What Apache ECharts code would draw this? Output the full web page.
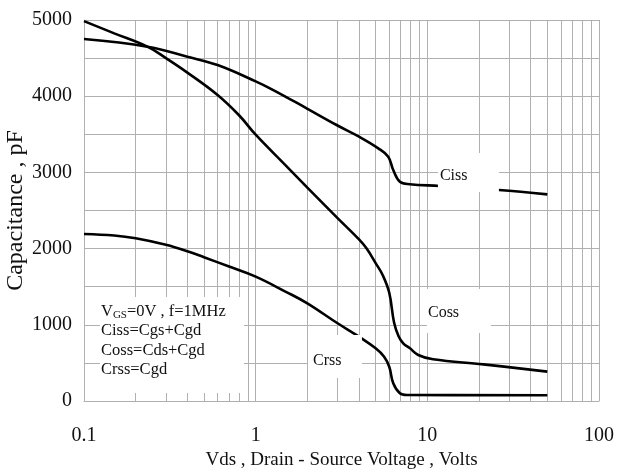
<!DOCTYPE html>
<html>
<head>
<meta charset="utf-8">
<title>Capacitance vs Drain-Source Voltage</title>
<script src="https://cdn.jsdelivr.net/npm/echarts@6/dist/echarts.min.js"></script>
<style>
  html, body { margin: 0; padding: 0; background: #fff; }
  #chart { width: 618px; height: 472px; }
</style>
</head>
<body>
<div id="chart"></div>
<script>
// Capacitance curves, [Vds (V), C (pF)]
const cissData = [[0.1,4751],[0.234,4650],[0.4,4518],[0.6,4409],[1.0,4195],[1.267,4081],[1.98,3841],[2.96,3622],[4.0,3469],[5.18,3316],[5.92,3206],[6.33,3031],[6.92,2878],[7.9,2845],[11.8,2822],[26.1,2769],[50,2712]];
const cossData = [[0.1,4985],[0.15,4825],[0.234,4650],[0.3,4500],[0.4,4310],[0.6,4016],[0.8,3750],[1.0,3495],[1.5,3089],[2.0,2800],[3.0,2400],[4.0,2120],[4.43,2000],[5.0,1810],[5.5,1650],[6.0,1420],[6.4,1030],[6.8,850],[7.24,757],[7.92,691],[8.85,604],[10.8,547],[21.2,481],[50,385]];
const crssData = [[0.1,2192],[0.15,2172],[0.2,2135],[0.3,2050],[0.4,1966],[0.5,1887],[0.7,1764],[1.0,1632],[1.5,1433],[2.0,1282],[3.0,1020],[4.0,844],[5.0,691],[5.6,581],[6.0,450],[6.33,232],[6.92,101],[7.6,78],[50,76]];

// Curve name tags: white boxes [x from, x to] x [C from, C to]
const tagNames = ['Ciss', 'Coss', 'Crss'];
const tagX1 = [11.53, 9.95, 2.017];
const tagX2 = [26.12, 23.47, 4.16];
const tagY1 = [2743, 892, 302];
const tagY2 = [3255, 1470, 866];

// Test conditions note and its box
const noteLines = ['{n|V}{s|GS}{n|=0V , f=1MHz}', '{n|Ciss=Cgs+Cgd}', '{n|Coss=Cds+Cgd}', '{n|Crss=Cgd}'];
const noteX = [0.1239, 0.855];
const noteY = [105, 1365];

// Log-decade gridlines between the labelled decades
const minorX = [0.2,0.3,0.4,0.5,0.6,0.7,0.8,0.9, 2,3,4,5,6,7,8,9, 20,30,40,50,60,70,80,90];

const FONT = 'Liberation Serif';
const GRID = '#b0b0b0';
const INK = '#111';

const chart = echarts.init(document.getElementById('chart'), null, { renderer: 'canvas' });

const curve = (name, data) => ({
  name, type: 'line', data, z: 3,
  showSymbol: false, symbol: 'none',
  smooth: 0.4,
  lineStyle: { color: '#000', width: 2.6 },
  emphasis: { disabled: true }, silent: true
});

// Text placement inside each tag box: [distance from left edge, vertical nudge]
const tagText = { Ciss: [2, 3], Coss: [1, 2], Crss: [5, 4.3] };

const tagAreas = tagNames.map((n, i) => [
  {
    name: n,
    coord: [tagX1[i], tagY2[i]],
    label: {
      show: true, position: 'insideLeft',
      distance: tagText[n][0], offset: [0, tagText[n][1]],
      formatter: n,
      fontFamily: FONT, fontSize: 16, color: INK
    }
  },
  { coord: [tagX2[i], tagY1[i]] }
]);

const noteArea = [
  {
    name: 'note',
    coord: [noteX[0], noteY[1]],
    label: {
      show: true, position: 'insideTopLeft',
      distance: 1, offset: [0, 3.5],
      formatter: noteLines.join('\n'),
      rich: {
        n: { fontFamily: FONT, fontSize: 16.5, lineHeight: 19.5, color: INK },
        s: { fontFamily: FONT, fontSize: 11, lineHeight: 19.5, color: INK, verticalAlign: 'bottom', padding: [6, 0, 0, 0] }
      }
    }
  },
  { coord: [noteX[1], noteY[0]] }
];

chart.setOption({
  animation: false,
  backgroundColor: '#fff',
  grid: { left: 84, right: 19, top: 20, bottom: 71, outerBoundsMode: 'none', containLabel: false },
  xAxis: {
    type: 'log', logBase: 10, min: 0.1, max: 100,
    name: 'Vds , Drain - Source Voltage , Volts',
    nameLocation: 'middle', nameGap: 50, nameMoveOverlap: false,
    nameTextStyle: { fontFamily: FONT, fontSize: 19, color: INK },
    axisLine: { show: true, lineStyle: { color: GRID, width: 1 } },
    axisTick: { show: false },
    axisLabel: { fontFamily: FONT, fontSize: 20, color: INK, margin: 25,
      formatter: v => String(+Number(v).toPrecision(3)) },
    splitLine: { show: true, lineStyle: { color: GRID, width: 1 } },
    minorTick: { show: false }, minorSplitLine: { show: false }
  },
  yAxis: {
    type: 'value', min: 0, max: 5000, interval: 500,
    name: 'Capacitance , pF',
    nameLocation: 'middle', nameGap: 56, nameMoveOverlap: false,
    nameTextStyle: { fontFamily: FONT, fontSize: 24, color: INK },
    axisLine: { show: true, lineStyle: { color: GRID, width: 1 } },
    axisTick: { show: false },
    axisLabel: { fontFamily: FONT, fontSize: 20, color: INK, margin: 12,
      formatter: v => (v % 1000 === 0 ? String(v) : '') },
    splitLine: { show: true, lineStyle: { color: GRID, width: 1 } }
  },
  series: [
    {
      name: 'decade grid', type: 'line', data: [], z: 1, silent: true,
      markLine: {
        z: 1, silent: true, symbol: 'none', animation: false,
        label: { show: false },
        lineStyle: { color: GRID, width: 1, type: 'solid' },
        emphasis: { disabled: true },
        data: minorX.map(v => ({ xAxis: v }))
      }
    },
    curve('Ciss', cissData),
    curve('Coss', cossData),
    curve('Crss', crssData),
    {
      name: 'annotations', type: 'line', data: [], z: 10, silent: true,
      markArea: {
        z: 10, silent: true, animation: false,
        itemStyle: { color: '#fff', opacity: 1, borderWidth: 0 },
        emphasis: { disabled: true },
        data: tagAreas.concat([noteArea])
      }
    }
  ]
});
</script>
</body>
</html>
